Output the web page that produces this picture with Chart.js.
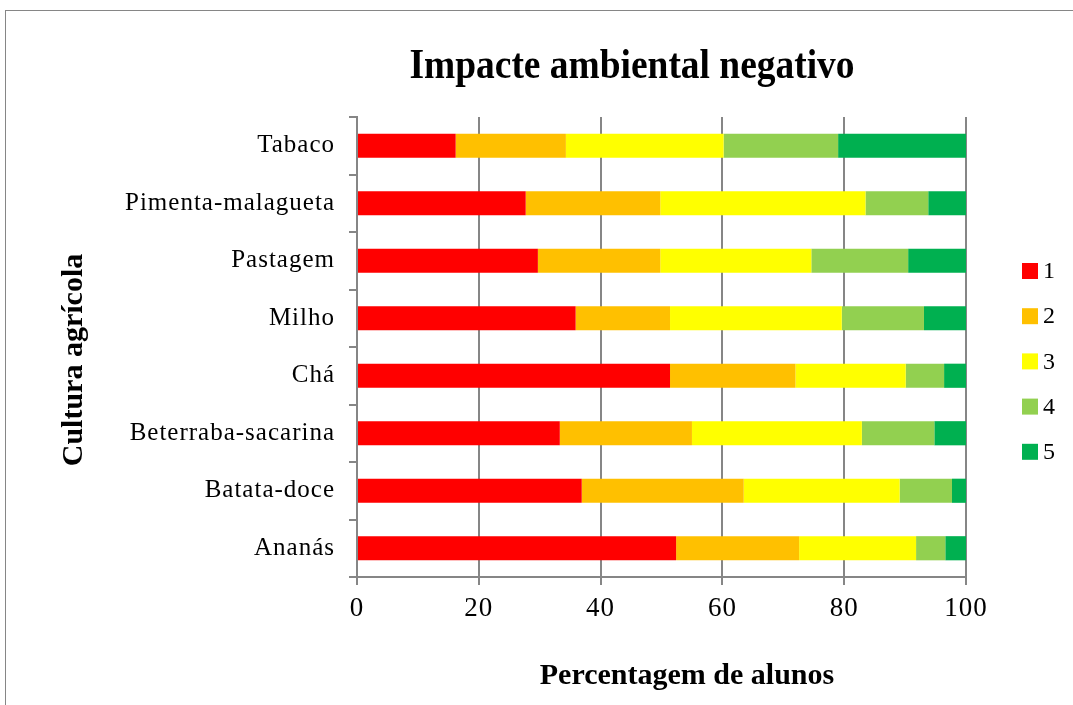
<!DOCTYPE html>
<html>
<head>
<meta charset="utf-8">
<script src="https://cdn.jsdelivr.net/npm/chart.js@4/dist/chart.umd.min.js"></script>
<style>
  body { margin: 0; background: #fff; }
  #wrap { width: 1073px; height: 705px; }
</style>
</head>
<body>
<div id="wrap"><canvas id="chart" width="1073" height="705"></canvas></div>
<script>
const categories = ["Tabaco", "Pimenta-malagueta", "Pastagem", "Milho", "Chá", "Beterraba-sacarina", "Batata-doce", "Ananás"];
const seriesNames = ["1", "2", "3", "4", "5"];
const seriesColors = ["#ff0000", "#ffc000", "#ffff00", "#92d050", "#00b050"];

const level1 = [16.2, 27.7, 29.7, 35.9, 51.4, 33.3, 36.9, 52.4];
const level2 = [18.1, 22.1, 20.1, 15.5, 20.6, 21.7, 26.6, 20.2];
const level3 = [25.9, 33.7, 24.8, 28.2, 18.1, 27.9, 25.6, 19.2];
const level4 = [18.8, 10.3, 15.9, 13.5, 6.3, 11.9, 8.6, 4.8];
const level5 = [21.0, 6.2, 9.5, 6.9, 3.6, 5.2, 2.3, 3.4];
const xTicks = [0, 20, 40, 60, 80, 100];

const seriesData = [level1, level2, level3, level4, level5];
const gray = "#868686";
const serif = "'Liberation Serif', 'Times New Roman', serif";

// rotulos dos eixos um pouco espacados, como no original
const spacingPlugin = {
    id: "spacing",
    beforeDraw(chart) { chart.ctx.letterSpacing = "1px"; },
    afterDraw(chart) { chart.ctx.letterSpacing = "0px"; }
};

// titulo, titulos dos eixos, legenda e moldura
const decorPlugin = {
    id: "decor",
    afterDraw(chart) {
        const ctx = chart.ctx;
        ctx.save();
        ctx.letterSpacing = "0px";

        ctx.strokeStyle = gray;
        ctx.lineWidth = 1;
        ctx.strokeRect(5.5, 10.5, 1200, 800);

        ctx.fillStyle = "#000";
        ctx.font = "bold 42px " + serif;
        ctx.textAlign = "center";
        ctx.textBaseline = "middle";
        const title = "Impacte ambiental negativo";
        const w = ctx.measureText(title).width;
        ctx.save();
        ctx.translate(632, 67);
        ctx.scale(445 / w, 1);
        ctx.fillText(title, 0, 0);
        ctx.restore();

        ctx.font = "bold 30px " + serif;
        ctx.fillText("Percentagem de alunos", 687, 676);

        ctx.save();
        ctx.translate(74, 360);
        ctx.rotate(-Math.PI / 2);
        ctx.fillText("Cultura agrícola", 0, 0);
        ctx.restore();

        ctx.font = "24px " + serif;
        ctx.textAlign = "left";
        chart.data.datasets.forEach((ds, i) => {
            const cy = 271 + i * 45.2;
            ctx.fillStyle = ds.backgroundColor;
            ctx.fillRect(1022, cy - 8, 16, 16);
            ctx.fillStyle = "#000";
            ctx.fillText(ds.label, 1043, cy + 1);
        });
        ctx.restore();
    }
};

const ctx = document.getElementById("chart").getContext("2d");
new Chart(ctx, {
    type: "bar",
    data: {
        labels: categories,
        datasets: seriesNames.map((name, i) => ({
            label: name,
            data: seriesData[i],
            backgroundColor: seriesColors[i],
            borderWidth: 0,
            barPercentage: 0.42,
            categoryPercentage: 1
        }))
    },
    options: {
        indexAxis: "y",
        responsive: false,
        animation: false,
        layout: { padding: { top: 117, right: 107, left: 0, bottom: 0 } },
        plugins: {
            legend: { display: false },
            title: { display: false },
            tooltip: { enabled: false }
        },
        scales: {
            x: {
                stacked: true,
                min: 0,
                max: 100,
                afterBuildTicks: axis => { axis.ticks = xTicks.map(v => ({ value: v })); },
                afterFit: axis => { axis.height = 128; },
                grid: { color: gray, lineWidth: 2, drawTicks: true, tickLength: 8, tickColor: gray },
                border: { color: gray, width: 2 },
                ticks: { color: "#000", padding: 8, font: { family: serif, size: 27 } }
            },
            y: {
                stacked: true,
                afterFit: axis => { axis.width = 357; },
                grid: { drawOnChartArea: false, drawTicks: true, tickLength: 8, tickColor: gray, offset: true, lineWidth: 2 },
                border: { color: gray, width: 2 },
                ticks: { color: "#000", padding: 14, font: { family: serif, size: 25 } }
            }
        }
    },
    plugins: [spacingPlugin, decorPlugin]
});
</script>
</body>
</html>
